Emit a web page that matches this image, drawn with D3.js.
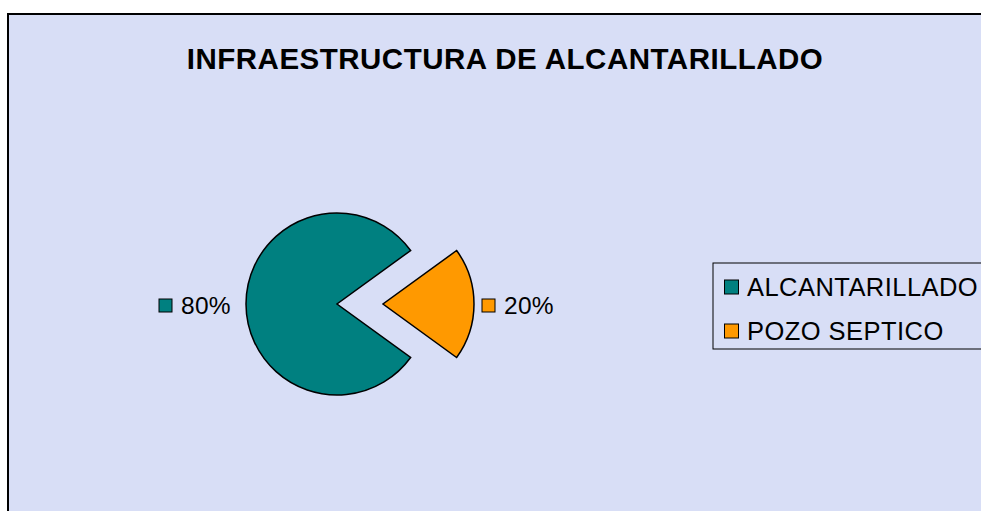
<!DOCTYPE html>
<html>
<head>
<meta charset="utf-8">
<script src="https://cdn.jsdelivr.net/npm/d3@7"></script>
<style>
  html, body { margin: 0; background: #fff; overflow: hidden; }
  svg { display: block; overflow: visible; font-family: Arial, "Liberation Sans", sans-serif; }
</style>
</head>
<body>
<svg id="chart"></svg>
<script>
const categories = ["ALCANTARILLADO", "POZO SEPTICO"]
const values = [80, 20]
const labels = ["80%", "20%"]
const colors = ["#008080", "#FF9900"]
const title = "INFRAESTRUCTURA DE ALCANTARILLADO"

const width = 981, height = 511

const svg = d3.select("#chart")
    .attr("width", width)
    .attr("height", height)

// chart area frame (runs off right/bottom edge like the original)
svg.append("rect")
    .attr("x", 8)
    .attr("y", 14)
    .attr("width", width + 60)
    .attr("height", height + 60)
    .attr("fill", "#D8DEF6")
    .attr("stroke", "#000")
    .attr("stroke-width", 2)

svg.append("text")
    .attr("x", 505)
    .attr("y", 69)
    .attr("text-anchor", "middle")
    .attr("font-size", 29.5)
    .attr("letter-spacing", 0.5)
    .attr("font-weight", "bold")
    .text(title)

const cx = 337, cy = 304, r = 91
const explode = 46

// start angle so the small slice is centred on 3 o'clock
const pie = d3.pie()
    .sort(null)
    .startAngle(Math.PI / 2 + Math.PI * 0.2)
    .endAngle(Math.PI / 2 + Math.PI * 0.2 + 2 * Math.PI)
    (values)

const arc = d3.arc().innerRadius(0).outerRadius(r)

const slices = svg.append("g")
    .attr("transform", `translate(${cx},${cy})`)

slices.selectAll("path")
    .data(pie)
    .join("path")
    .attr("d", arc)
    .attr("transform", (d, i) => {
        if (i === 0) return null
        const mid = (d.startAngle + d.endAngle) / 2
        return `translate(${Math.sin(mid) * explode},${-Math.cos(mid) * explode})`
    })
    .attr("fill", (d, i) => colors[i])
    .attr("stroke", "#000")
    .attr("stroke-width", 1.5)

// data labels with legend keys
const labelPos = [{x: 159, y: 305}, {x: 482, y: 305}]
const lbl = svg.append("g")
lbl.selectAll("rect")
    .data(labels)
    .join("rect")
    .attr("x", (d, i) => labelPos[i].x)
    .attr("y", (d, i) => labelPos[i].y - 6)
    .attr("width", 13)
    .attr("height", 13)
    .attr("fill", (d, i) => colors[i])
    .attr("stroke", "#000")
    .attr("stroke-width", 1)
lbl.selectAll("text")
    .data(labels)
    .join("text")
    .attr("x", (d, i) => labelPos[i].x + 22)
    .attr("y", (d, i) => labelPos[i].y + 8.5)
    .attr("font-size", 24.5)
    .attr("letter-spacing", 0.3)
    .text(d => d)

// legend
const legend = svg.append("g")
legend.append("rect")
    .attr("x", 713)
    .attr("y", 263)
    .attr("width", 340)
    .attr("height", 86)
    .attr("fill", "#D8DEF6")
    .attr("stroke", "#000")
    .attr("stroke-width", 1)

const rowY = d3.scalePoint().domain(categories).range([287, 331])
const items = legend.selectAll("g.item")
    .data(categories)
    .join("g")
    .attr("class", "item")
    .attr("transform", d => `translate(724,${rowY(d)})`)
items.append("rect")
    .attr("x", 0.5)
    .attr("y", -7)
    .attr("width", 14)
    .attr("height", 14)
    .attr("fill", (d, i) => colors[i])
    .attr("stroke", "#000")
    .attr("stroke-width", 1)
items.append("text")
    .attr("x", 23)
    .attr("y", 9)
    .attr("font-size", 25.5)
    .attr("letter-spacing", 0.45)
    .text(d => d)
</script>
</body>
</html>
